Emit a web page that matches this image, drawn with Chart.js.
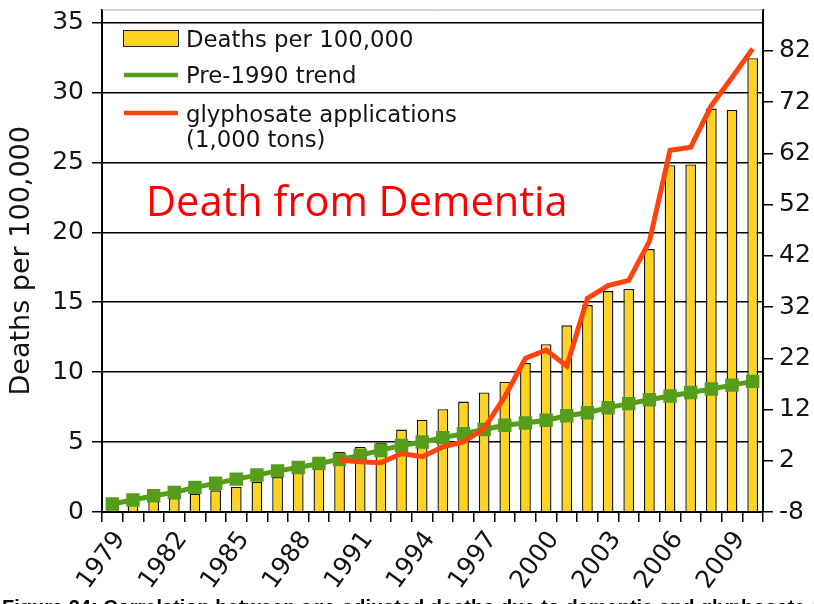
<!DOCTYPE html>
<html>
<head>
<meta charset="utf-8">
<script src="https://cdn.jsdelivr.net/npm/chart.js@4/dist/chart.umd.min.js"></script>
<style>
html,body{margin:0;padding:0;background:#fff;overflow:hidden}
#wrap{position:relative;width:814px;height:604px}
</style>
</head>
<body>
<div id="wrap"><canvas id="c" width="814" height="604"></canvas></div>
<script>
// ---- data ----
const YEARS = ['1979','1980','1981','1982','1983','1984','1985','1986','1987','1988',
               '1989','1990','1991','1992','1993','1994','1995','1996','1997','1998',
               '1999','2000','2001','2002','2003','2004','2005','2006','2007','2008',
               '2009','2010'];
const DEATHS = [0.5, 0.65, 0.8, 1.0, 1.3, 1.55, 1.8, 2.15, 2.5, 2.95,
                3.95, 4.3, 4.65, 4.95, 5.9, 6.6, 7.35, 7.9, 8.55, 9.3,
                10.65, 12.0, 13.35, 14.8, 15.8, 15.95, 18.8, 24.8, 24.85, 28.85,
                28.75, 32.45];
const TREND = [0.57, 0.86, 1.16, 1.4, 1.76, 2.05, 2.35, 2.64, 2.94, 3.18,
               3.47, 3.76, 4.05, 4.42, 4.75, 5.01, 5.32, 5.6, 5.9, 6.2,
               6.37, 6.56, 6.88, 7.1, 7.46, 7.75, 8.03, 8.29, 8.55, 8.8,
               9.07, 9.34];
const GLYPHOSATE = [null, null, null, null, null, null, null, null, null, null,
                    null, 2.1, 1.8, 1.6, 3.4, 2.8, 4.7, 5.7, 8.3, 14.5,
                    22.0, 23.6, 20.5, 33.7, 36.2, 37.2, 44.8, 62.6, 63.2, 71.3,
                    76.8, 82.4];
const LEFT_TICKS = [0, 5, 10, 15, 20, 25, 30, 35];
const RIGHT_TICKS = [-8, 2, 12, 22, 32, 42, 52, 62, 72, 82];
const SERIES_NAMES = ['Deaths per 100,000', 'Pre-1990 trend', 'glyphosate applications'];
const SERIES_NAME_EXTRA = '(1,000 tons)';
const Y_TITLE = 'Deaths per 100,000';
const CHART_TITLE = 'Death from Dementia';
const CAPTION = 'Figure 24: Correlation between age-adjusted deaths due to dementia and glyphosate applications';

const YELLOW = '#ffd320', GREEN = '#579d1c', ORANGE = '#ff420e';
const TXT = '#141414';
const FONT = 'DejaVu Sans';

const overlay = {
  id: 'overlay',
  afterDraw(chart) {
    const ctx = chart.ctx;
    const a = chart.chartArea;
    ctx.save();
    // top frame line of the plot wall
    ctx.strokeStyle = '#b0b0b0';
    ctx.lineWidth = 1;
    ctx.beginPath();
    ctx.moveTo(a.left, a.top + 0.5);
    ctx.lineTo(a.right, a.top + 0.5);
    ctx.stroke();

    // legend
    ctx.fillStyle = YELLOW;
    ctx.fillRect(123.5, 30.5, 55, 16);
    ctx.strokeStyle = '#222';
    ctx.lineWidth = 1;
    ctx.strokeRect(123.5, 30.5, 55, 16);
    ctx.lineWidth = 4.5;
    ctx.strokeStyle = GREEN;
    ctx.beginPath(); ctx.moveTo(124, 75); ctx.lineTo(178, 75); ctx.stroke();
    ctx.strokeStyle = ORANGE;
    ctx.beginPath(); ctx.moveTo(124, 113); ctx.lineTo(178, 113); ctx.stroke();
    ctx.fillStyle = TXT;
    ctx.font = '22.8px "' + FONT + '"';
    ctx.textBaseline = 'alphabetic';
    ctx.textAlign = 'left';
    ctx.fillText(SERIES_NAMES[0], 186, 46.5);
    ctx.fillText(SERIES_NAMES[1], 186, 83);
    ctx.fillText(SERIES_NAMES[2], 186, 122);
    ctx.fillText(SERIES_NAME_EXTRA, 186, 146.5);

    // red title
    ctx.fillStyle = '#ff0000';
    ctx.font = '41.5px "Open Sans"';
    ctx.fillText(CHART_TITLE, 146, 216);

    // caption (cut off by the bottom edge)
    ctx.fillStyle = '#000';
    ctx.font = 'bold 20px "Liberation Sans"';
    ctx.fillText(CAPTION, 2, 614);
    ctx.restore();
  }
};

const tickFont = {family: FONT, size: 25};
const noPadY = s => { s.paddingTop = 0; s.paddingBottom = 0; };

new Chart(document.getElementById('c'), {
  type: 'bar',
  data: {
    labels: YEARS,
    datasets: [
      {type: 'bar', label: SERIES_NAMES[0], data: DEATHS, yAxisID: 'y',
       backgroundColor: YELLOW, borderColor: '#111', borderWidth: 1.4,
       barPercentage: 0.52, categoryPercentage: 1.0, order: 3},
      {type: 'line', label: SERIES_NAMES[1], data: TREND, yAxisID: 'y',
       borderColor: GREEN, backgroundColor: GREEN, borderWidth: 5,
       pointStyle: 'rect', pointRadius: 9.5, pointBorderWidth: 0,
       pointBackgroundColor: GREEN, tension: 0, order: 2},
      {type: 'line', label: SERIES_NAMES[2] + ' ' + SERIES_NAME_EXTRA, data: GLYPHOSATE, yAxisID: 'y1',
       borderColor: ORANGE, backgroundColor: ORANGE, borderWidth: 5,
       pointRadius: 0, tension: 0, order: 1, spanGaps: false}
    ]
  },
  options: {
    responsive: false,
    animation: false,
    devicePixelRatio: 1,
    layout: {padding: {top: 8, left: 0, right: 0, bottom: 0}},
    plugins: {legend: {display: false}, tooltip: {enabled: false}},
    scales: {
      x: {
        offset: true,
        grid: {offset: true, drawOnChartArea: false, drawTicks: true, tickLength: 10, color: '#000', lineWidth: 1.5},
        border: {display: true, color: '#000', width: 2},
        ticks: {autoSkip: false, minRotation: 54, maxRotation: 54, padding: 4, labelOffset: 8,
                font: {family: FONT, size: 25}, color: TXT,
                callback: (v, i) => (i % 3 === 0 ? YEARS[i] : '')},
        afterFit: s => { s.height = 92; s.paddingLeft = 0; s.paddingRight = 0; }
      },
      y: {
        position: 'left', min: 0, max: 35.93,
        afterBuildTicks: s => { s.ticks = LEFT_TICKS.map(v => ({value: v})); },
        ticks: {padding: 8, font: tickFont, color: TXT},
        grid: {color: '#000', lineWidth: 1.5, tickLength: 10},
        border: {display: true, color: '#000', width: 2},
        title: {display: true, text: Y_TITLE, font: {family: FONT, size: 27}, color: TXT, padding: {top: 6, bottom: 0}},
        afterFit: s => { s.width = 102; noPadY(s); }
      },
      y1: {
        position: 'right', min: -8, max: 90.07,
        afterBuildTicks: s => { s.ticks = RIGHT_TICKS.map(v => ({value: v})); },
        ticks: {padding: 6, font: tickFont, color: TXT},
        grid: {drawOnChartArea: false, color: '#000', lineWidth: 1.5, tickLength: 10},
        border: {display: true, color: '#000', width: 2},
        afterFit: s => { s.width = 51; noPadY(s); }
      }
    }
  },
  plugins: [overlay]
});
</script>
</body>
</html>
